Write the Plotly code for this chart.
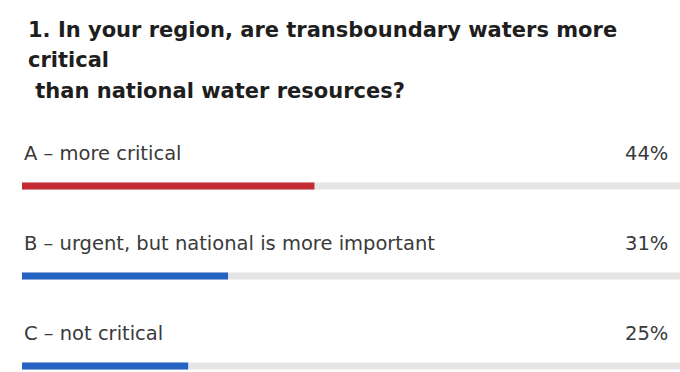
import plotly.graph_objects as go

categories = ["A – more critical", "B – urgent, but national is more important", "C – not critical"]
values = [44, 31, 25]
pct_labels = ["44%", "31%", "25%"]
colors = ["#c32a33", "#2463c2", "#2463c2"]
title_lines = ["1. In your region, are transboundary waters more", "critical", "&nbsp;than national water resources?"]

H = 372
idx = list(range(len(categories)))
label_font = dict(family="DejaVu Sans", size=19.5, color="#3a3a3a")

fig = go.Figure()
fig.add_trace(go.Bar(x=[100] * len(idx), y=idx, orientation="h", width=0.078,
                     marker=dict(color="#e5e5e5", line=dict(width=0)), hoverinfo="skip"))
fig.add_trace(go.Bar(x=values, y=idx, orientation="h", width=0.078,
                     marker=dict(color=colors, line=dict(width=0)), hoverinfo="skip"))

for i, (c, p) in enumerate(zip(categories, pct_labels)):
    fig.add_annotation(x=0, y=i, xref="x", yref="y", text=c, showarrow=False,
                       xanchor="left", yanchor="middle", yshift=33, xshift=0,
                       font=label_font)
    fig.add_annotation(x=1, y=i, xref="paper", yref="y", text=p, showarrow=False,
                       xanchor="right", yanchor="middle", yshift=33, xshift=-10,
                       font=label_font)

title_centers = [30, 60, 91]
for line, cy in zip(title_lines, title_centers):
    fig.add_annotation(x=0, y=1 - cy / H, xref="paper", yref="paper", text="<b>" + line + "</b>",
                       showarrow=False, xanchor="left", yanchor="middle", align="left",
                       xshift=4,
                       font=dict(family="DejaVu Sans", size=21, color="#1e1e1e"))

fig.update_layout(
    width=680, height=H,
    margin=dict(l=22, r=0, t=0, b=0),
    barmode="overlay", barcornerradius=4,
    paper_bgcolor="white", plot_bgcolor="white",
    showlegend=False,
    xaxis=dict(range=[0, 99], visible=False, fixedrange=True),
    yaxis=dict(range=[2.0667, -2.0667], visible=False, fixedrange=True),
)
fig.write_html("out.html")
